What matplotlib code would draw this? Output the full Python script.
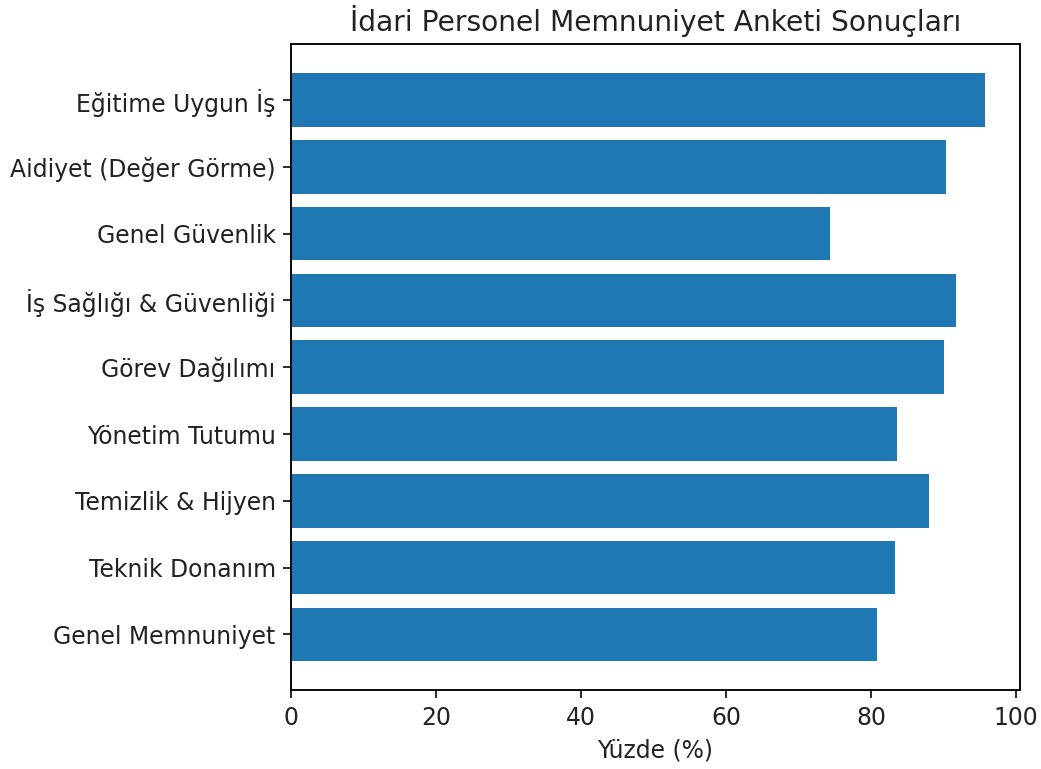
import matplotlib
matplotlib.use("Agg")
import matplotlib.pyplot as plt

# kategoriler (alttan üste)
kategoriler = [
    "Genel Memnuniyet",
    "Teknik Donanım",
    "Temizlik & Hijyen",
    "Yönetim Tutumu",
    "Görev Dağılımı",
    "İş Sağlığı & Güvenliği",
    "Genel Güvenlik",
    "Aidiyet (Değer Görme)",
    "Eğitime Uygun İş",
]
yuzdeler = [80.8, 83.3, 88.0, 83.6, 90.1, 91.7, 74.3, 90.3, 95.7]

plt.rcParams["font.size"] = 11.3
plt.rcParams["axes.linewidth"] = 0.9
plt.rcParams["xtick.major.size"] = 4
plt.rcParams["ytick.major.size"] = 4
plt.rcParams["xtick.major.width"] = 0.9
plt.rcParams["ytick.major.width"] = 0.9
plt.rcParams["text.color"] = "#222222"
plt.rcParams["xtick.color"] = "#222222"
plt.rcParams["ytick.color"] = "#222222"
plt.rcParams["axes.labelcolor"] = "#222222"

fig, ax = plt.subplots(figsize=(6.94, 5.127), dpi=150)
fig.subplots_adjust(left=0.2798, right=0.9795, top=0.9428, bottom=0.1021)

ax.barh(kategoriler, yuzdeler)
ax.set_xlabel("Yüzde (%)")
ax.set_title("İdari Personel Memnuniyet Anketi Sonuçları", fontsize=13.5, pad=6)

fig.savefig("out.png", dpi=150)
